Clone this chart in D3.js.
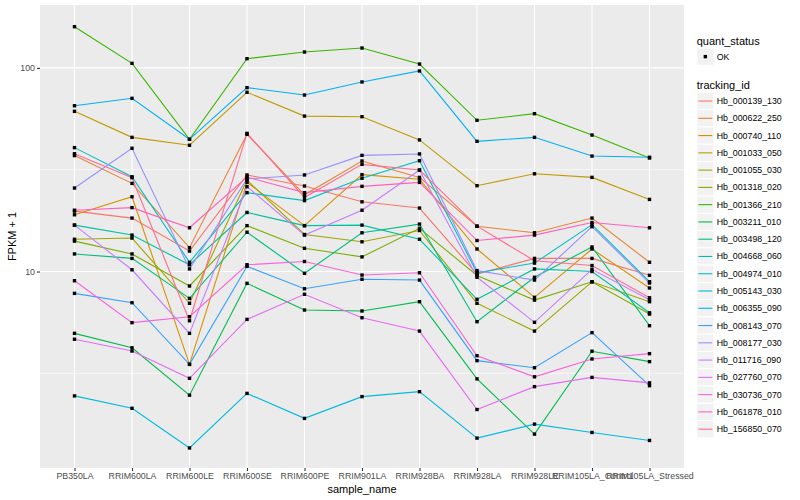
<!DOCTYPE html>
<html>
<head>
<meta charset="utf-8">
<script src="https://cdn.jsdelivr.net/npm/d3@7"></script>
<style>
body{margin:0;background:#fff;}
text{font-family:"Liberation Sans",Arial,Helvetica,sans-serif;}
</style>
</head>
<body>
<svg id="chart" width="800" height="500"></svg>
<script>
// sample names on x
var samples = ["PB350LA","RRIM600LA","RRIM600LE","RRIM600SE","RRIM600PE","RRIM901LA",
               "RRIM928BA","RRIM928LA","RRIM928LE","RRIM105LA_Control","RRIM105LA_Stressed"];

var trackingIds = ["Hb_000139_130","Hb_000622_250","Hb_000740_110","Hb_001033_050","Hb_001055_030",
                   "Hb_001318_020","Hb_001366_210","Hb_003211_010","Hb_003498_120","Hb_004668_060",
                   "Hb_004974_010","Hb_005143_030","Hb_006355_090","Hb_008143_070","Hb_008177_030",
                   "Hb_011716_090","Hb_027760_070","Hb_030736_070","Hb_061878_010","Hb_156850_070"];

// FPKM + 1, one row per tracking id, one value per sample
var fpkm = [
  [19.8, 18.3, 12.6, 29.8, 26.3, 22.0, 20.5, 9.72, 11.6, 11.6, 9.58],
  [37.1, 27.1, 13.1, 47.2, 23.8, 34.9, 29.0, 16.7, 15.5, 18.3, 11.1],
  [19.0, 23.3, 3.50, 27.4, 16.8, 29.9, 28.4, 12.9, 7.47, 12.9, 8.30],
  [61.2, 45.6, 41.7, 75.9, 58.0, 57.6, 44.3, 26.4, 30.2, 29.0, 22.6],
  [14.4, 14.6, 6.98, 28.1, 15.2, 14.0, 15.9, 6.98, 5.10, 8.90, 7.11],
  [14.1, 12.2, 8.49, 16.8, 13.0, 11.8, 16.3, 9.56, 7.24, 8.90, 6.18],
  [159.4, 105.3, 44.6, 111.0, 119.7, 125.2, 104.5, 55.3, 59.6, 46.8, 36.1],
  [4.97, 4.22, 2.47, 8.75, 6.47, 6.40, 7.11, 2.97, 1.59, 4.06, 3.61],
  [12.2, 11.6, 7.38, 15.6, 9.80, 15.5, 17.1, 5.67, 9.37, 13.2, 5.42],
  [16.9, 15.1, 10.8, 19.5, 16.8, 16.9, 14.4, 7.30, 10.3, 10.0, 6.27],
  [40.6, 29.2, 11.1, 24.4, 22.3, 28.7, 35.0, 9.86, 11.0, 17.0, 8.91],
  [2.45, 2.13, 1.36, 2.52, 1.90, 2.43, 2.57, 1.52, 1.78, 1.62, 1.48],
  [65.2, 70.9, 44.6, 80.0, 73.6, 85.3, 96.6, 43.6, 45.6, 36.9, 36.4],
  [7.81, 7.03, 3.50, 10.6, 8.23, 9.16, 9.08, 3.65, 3.37, 5.01, 2.75],
  [25.7, 40.3, 10.3, 28.5, 29.8, 37.2, 37.8, 10.1, 9.08, 16.6, 8.78],
  [16.9, 10.2, 4.97, 26.1, 15.1, 20.0, 31.5, 9.37, 5.63, 10.25, 7.27],
  [4.65, 4.07, 2.99, 5.82, 7.73, 5.93, 5.10, 2.10, 2.72, 3.02, 2.84],
  [9.01, 5.61, 6.00, 10.8, 11.2, 9.61, 9.86, 3.86, 3.04, 3.72, 3.95],
  [20.0, 20.6, 16.4, 29.1, 24.4, 26.2, 27.4, 14.2, 15.1, 17.4, 16.4],
  [37.9, 28.9, 5.73, 47.7, 23.1, 33.6, 31.5, 16.7, 11.3, 10.7, 7.43]
];

var yTicks = [10, 100];
var yMinor = [Math.sqrt(10), Math.sqrt(1000)];
var yTickLabels = ["10", "100"];

var hues = ["#F8766D","#EA8331","#D89000","#C09B00","#A3A500","#7CAE00","#39B600","#00BB4E",
            "#00BF7D","#00C1A3","#00BFC4","#00BAE0","#00B0F6","#35A2FF","#9590FF","#C77CFF",
            "#E76BF3","#FA62DB","#FF62BC","#FF6C91"];

var svg = d3.select("#chart");
var panel = {left: 40, right: 684, top: 5, bottom: 468};

var x = d3.scalePoint().domain(samples).range([panel.left, panel.right]).padding(0.6);
var y = d3.scaleLog().domain([1.084, 203.7]).range([panel.bottom, panel.top]);
var color = d3.scaleOrdinal().domain(trackingIds).range(hues);

svg.append("rect").attr("width", 800).attr("height", 500).attr("fill", "#fff");

// panel + grid
svg.append("rect")
   .attr("x", panel.left).attr("y", panel.top)
   .attr("width", panel.right - panel.left).attr("height", panel.bottom - panel.top)
   .attr("fill", "#EBEBEB");

var grid = svg.append("g");
grid.selectAll(".minor").data(yMinor).enter().append("line")
    .attr("x1", panel.left).attr("x2", panel.right)
    .attr("y1", function(d){ return y(d); }).attr("y2", function(d){ return y(d); })
    .attr("stroke", "#fff").attr("stroke-width", 0.55);
grid.selectAll(".major").data(yTicks).enter().append("line")
    .attr("x1", panel.left).attr("x2", panel.right)
    .attr("y1", function(d){ return y(d); }).attr("y2", function(d){ return y(d); })
    .attr("stroke", "#fff").attr("stroke-width", 1.1);
grid.selectAll(".vx").data(samples).enter().append("line")
    .attr("x1", function(d){ return x(d); }).attr("x2", function(d){ return x(d); })
    .attr("y1", panel.top).attr("y2", panel.bottom)
    .attr("stroke", "#fff").attr("stroke-width", 1.1);

// lines
var line = d3.line()
    .x(function(d, i){ return x(samples[i]); })
    .y(function(d){ return y(d); });

svg.append("g").selectAll("path").data(fpkm).enter().append("path")
   .attr("d", line)
   .attr("fill", "none")
   .attr("stroke", function(d, i){ return color(trackingIds[i]); })
   .attr("stroke-width", 1.1);

// points
var pts = [];
fpkm.forEach(function(row){
    row.forEach(function(v, j){ pts.push({s: samples[j], v: v}); });
});
svg.append("g").selectAll("rect").data(pts).enter().append("rect")
   .attr("x", function(d){ return x(d.s) - 1.7; })
   .attr("y", function(d){ return y(d.v) - 1.7; })
   .attr("width", 3.4).attr("height", 3.4)
   .attr("fill", "#000");

// axes
var xAxis = d3.axisBottom(x).tickSize(3).tickPadding(2);
var gx = svg.append("g").attr("transform", "translate(0," + panel.bottom + ")").call(xAxis);
gx.select(".domain").remove();
gx.selectAll("line").attr("stroke", "#333333").attr("stroke-width", 1.1);
gx.selectAll("text").attr("fill", "#4D4D4D").style("font-size", "8.8px")
  .style("font-family", "'Liberation Sans',Arial,sans-serif");

var yAxis = d3.axisLeft(y).tickValues(yTicks)
    .tickFormat(function(d, i){ return yTickLabels[i]; })
    .tickSize(3).tickPadding(2);
var gy = svg.append("g").attr("transform", "translate(" + panel.left + ",0)").call(yAxis);
gy.select(".domain").remove();
gy.selectAll("line").attr("stroke", "#333333").attr("stroke-width", 1.1);
gy.selectAll("text").attr("fill", "#4D4D4D").style("font-size", "8.8px")
  .style("font-family", "'Liberation Sans',Arial,sans-serif");

svg.append("text")
   .attr("x", (panel.left + panel.right) / 2).attr("y", 493)
   .attr("text-anchor", "middle").attr("font-size", 11).attr("fill", "#000")
   .text("sample_name");

svg.append("text")
   .attr("transform", "translate(16," + (panel.top + panel.bottom) / 2 + ") rotate(-90)")
   .attr("text-anchor", "middle").attr("font-size", 11).attr("fill", "#000")
   .text("FPKM + 1");

// legend
var lg = svg.append("g");
var keyX = 696.7, keyW = 17.3, keyH = 17.27;

lg.append("text").attr("x", keyX).attr("y", 44.5).attr("font-size", 11).text("quant_status");
lg.append("rect").attr("x", keyX).attr("y", 48).attr("width", keyW).attr("height", keyH)
  .attr("fill", "#F2F2F2").attr("stroke", "#fff").attr("stroke-width", 1);
lg.append("rect").attr("x", keyX + keyW / 2 - 1.7).attr("y", 48 + keyH / 2 - 1.7)
  .attr("width", 3.4).attr("height", 3.4).attr("fill", "#000");
lg.append("text").attr("x", 716.7).attr("y", 48 + keyH / 2 + 3)
  .attr("font-size", 8.8).attr("fill", "#000").text("OK");

lg.append("text").attr("x", keyX).attr("y", 88.5).attr("font-size", 11).text("tracking_id");

var keys = lg.selectAll(".key").data(trackingIds).enter().append("g")
    .attr("transform", function(d, i){ return "translate(" + keyX + "," + (92.4 + i * keyH) + ")"; });
keys.append("rect").attr("width", keyW).attr("height", keyH)
    .attr("fill", "#F2F2F2").attr("stroke", "#fff").attr("stroke-width", 1);
keys.append("line").attr("x1", 1.7).attr("x2", keyW - 1.7)
    .attr("y1", keyH / 2).attr("y2", keyH / 2)
    .attr("stroke", function(d){ return color(d); }).attr("stroke-width", 1.1);
keys.append("text").attr("x", 716.7 - keyX).attr("y", keyH / 2 + 3)
    .attr("font-size", 8.8).attr("fill", "#000")
    .text(function(d){ return d; });
</script>
</body>
</html>
